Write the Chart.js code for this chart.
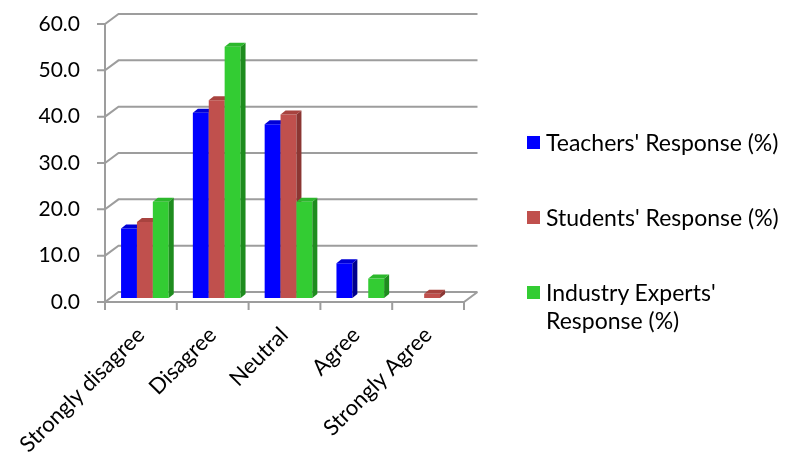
<!DOCTYPE html>
<html>
<head>
<meta charset="utf-8">
<script src="https://cdn.jsdelivr.net/npm/chart.js@4.4.0/dist/chart.umd.min.js"></script>
<style>
  body { margin: 0; background: #fff; }
  #wrap { position: relative; width: 788px; height: 454px; }
  #legend { position: absolute; left: 0; top: 0; width: 788px; height: 454px; font-family: Lato, sans-serif; font-size: 23px; color: #000; pointer-events: none; }
  .item { position: absolute; left: 527px; width: 261px; line-height: 28px; white-space: pre; }
  .swatch { position: absolute; left: 0; top: 8px; width: 13px; height: 13px; }
  .text { margin-left: 19px; }
</style>
</head>
<body>
<div id="wrap">
  <canvas id="responseChart" width="788" height="454"></canvas>
  <div id="legend"></div>
</div>
<script>
const categories = ['Strongly disagree', 'Disagree', 'Neutral', 'Agree', 'Strongly Agree'];
const seriesNames = ["Teachers' Response (%)", "Students' Response (%)", "Industry Experts'\nResponse (%)"];
const teachers = [15.0, 40.0, 37.5, 7.5, 0];
const students = [16.4, 42.7, 39.6, 0, 0.9];
const experts = [20.8, 54.2, 20.8, 4.2, 0];
const yTicks = [0, 10, 20, 30, 40, 50, 60];

const frontColors = ['#0000ff', '#c0504d', '#33cc33'];
const sideColors = ['#00008e', '#8b3633', '#1e8c1e'];
const topColors = ['#0000d6', '#a8433f', '#2cb82c'];

// projection offsets for the fake 3D look
const wallDepth = { x: 13.5, y: 10 };
const barShift = { x: 4, y: 4 };
const barDepth = { x: 5, y: 4 };

function drawWalls(chart) {
    const ctx = chart.ctx;
    const area = chart.chartArea;
    const yScale = chart.scales.y;
    const xScale = chart.scales.x;
    ctx.save();
    ctx.strokeStyle = '#9d9d9d';
    ctx.lineWidth = 2;
    ctx.beginPath();
    yScale.ticks.forEach(t => {
        const py = yScale.getPixelForValue(t.value);
        // tick mark, slanted edge and back wall line
        ctx.moveTo(area.left - 8, py);
        ctx.lineTo(area.left, py);
        ctx.lineTo(area.left + wallDepth.x, py - wallDepth.y);
        ctx.lineTo(area.right + wallDepth.x, py - wallDepth.y);
    });
    // front vertical axis
    ctx.moveTo(area.left, yScale.getPixelForValue(yTicks[yTicks.length - 1]));
    ctx.lineTo(area.left, area.bottom);
    // floor front edge and its right corner
    ctx.lineTo(area.right, area.bottom);
    ctx.lineTo(area.right + wallDepth.x, area.bottom - wallDepth.y);
    // category separators
    const half = (xScale.getPixelForValue(1) - xScale.getPixelForValue(0)) / 2;
    for (let i = 0; i <= categories.length; i++) {
        const px = xScale.getPixelForValue(i) - half;
        ctx.moveTo(px, area.bottom);
        ctx.lineTo(px, area.bottom + 8);
    }
    ctx.stroke();
    ctx.restore();
}

function drawFaces(ctx, bar, i) {
    const { x, y, base, width } = bar.getProps(['x', 'y', 'base', 'width'], true);
    const l = x - width / 2, r = x + width / 2;
    ctx.fillStyle = sideColors[i];
    ctx.beginPath();
    ctx.moveTo(r, y);
    ctx.lineTo(r + barDepth.x, y - barDepth.y);
    ctx.lineTo(r + barDepth.x, base - barDepth.y);
    ctx.lineTo(r, base);
    ctx.closePath();
    ctx.fill();
    ctx.fillStyle = topColors[i];
    ctx.beginPath();
    ctx.moveTo(l, y);
    ctx.lineTo(l + barDepth.x, y - barDepth.y);
    ctx.lineTo(r + barDepth.x, y - barDepth.y);
    ctx.lineTo(r, y);
    ctx.closePath();
    ctx.fill();
}

const bars3d = {
    id: 'bars3d',
    beforeDatasetsDraw(chart) {
        const ctx = chart.ctx;
        drawWalls(chart);
        ctx.save();
        ctx.translate(barShift.x, -barShift.y);
        // draw category by category so that later bars cover earlier side faces
        for (let c = 0; c < categories.length; c++) {
            chart.data.datasets.forEach((ds, i) => {
                if (!ds.data[c]) return;
                const bar = chart.getDatasetMeta(i).data[c];
                bar.draw(ctx);
                drawFaces(ctx, bar, i);
            });
        }
        ctx.restore();
        return false;
    }
};

Chart.defaults.font.family = 'Lato, sans-serif';
Chart.defaults.font.size = 21;
Chart.defaults.color = '#000';

new Chart(document.getElementById('responseChart'), {
    type: 'bar',
    data: {
        labels: categories,
        datasets: [teachers, students, experts].map((values, i) => ({
            label: seriesNames[i],
            data: values,
            backgroundColor: frontColors[i],
            borderWidth: 0,
            categoryPercentage: 0.664,
            barPercentage: 1
        }))
    },
    options: {
        responsive: false,
        animation: false,
        layout: { padding: { left: 0, right: 324, top: 24, bottom: 0 } },
        plugins: { legend: { display: false }, tooltip: { enabled: false } },
        scales: {
            x: {
                grid: { display: false, drawTicks: false },
                border: { display: false },
                ticks: { minRotation: 45, maxRotation: 45, padding: 20, font: { size: 22 } },
                afterFit: s => {
                    s.height = 152;
                    s.paddingLeft = 0;
                    s.paddingRight = 0;
                }
            },
            y: {
                min: yTicks[0],
                max: yTicks[yTicks.length - 1],
                grid: { display: false, drawTicks: false },
                border: { display: false },
                ticks: { stepSize: 10, padding: 25, callback: v => v.toFixed(1) },
                afterFit: s => {
                    s.width = 105;
                    s.paddingTop = 0;
                    s.paddingBottom = 0;
                }
            }
        }
    },
    plugins: [bars3d]
});

// legend on the right
const legend = document.getElementById('legend');
seriesNames.forEach((name, i) => {
    const item = document.createElement('div');
    item.className = 'item';
    item.style.top = (128 + 75 * i) + 'px';
    item.innerHTML = `<span class="swatch" style="background:${frontColors[i]}"></span><div class="text"></div>`;
    item.querySelector('.text').textContent = name;
    legend.appendChild(item);
});
</script>
</body>
</html>
